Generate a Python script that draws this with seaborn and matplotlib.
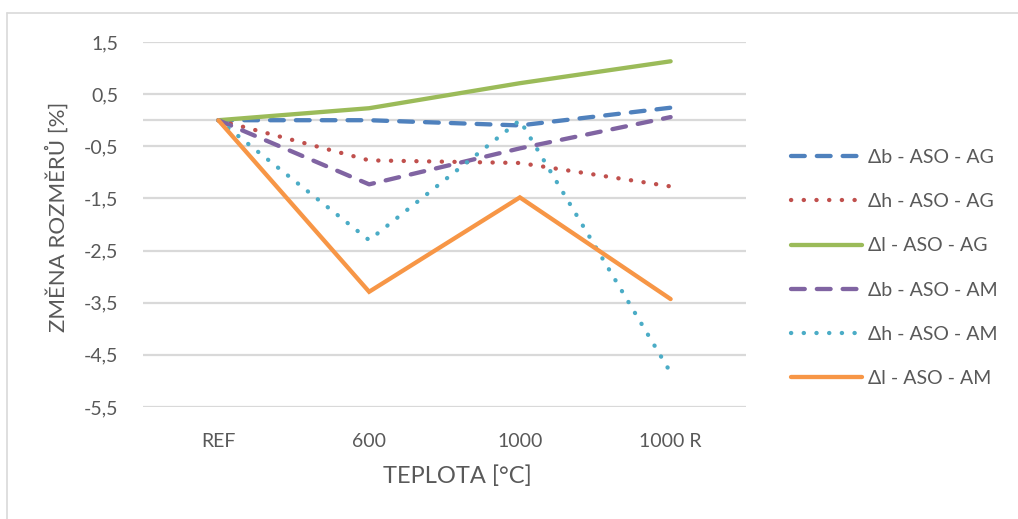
import matplotlib
matplotlib.use("Agg")
import matplotlib.pyplot as plt
from matplotlib.ticker import FuncFormatter, FixedLocator
from matplotlib.lines import Line2D
import seaborn as sns
import pandas as pd

# Temperature categories and dimension changes [%]
categories = ["REF", "600", "1000", "1000 R"]

db_ag = [0.0, 0.0, -0.10, 0.24]
dh_ag = [0.0, -0.77, -0.82, -1.27]
dl_ag = [0.0, 0.23, 0.71, 1.13]
db_am = [0.0, -1.23, -0.54, 0.06]
dh_am = [0.0, -2.30, 0.0, -4.84]
dl_am = [0.0, -3.29, -1.48, -3.43]

series_names = ["Δb - ASO - AG", "Δh - ASO - AG", "Δl - ASO - AG",
                "Δb - ASO - AM", "Δh - ASO - AM", "Δl - ASO - AM"]
series_values = [db_ag, dh_ag, dl_ag, db_am, dh_am, dl_am]
series_colors = ["#4F81BD", "#C0504D", "#9BBB59", "#8064A2", "#4BACC6", "#F79646"]
dash_kind = ["dash", "dot", "solid", "dash", "dot", "solid"]
y_ticks = [1.5, 0.5, -0.5, -1.5, -2.5, -3.5, -4.5, -5.5]

sns.set_theme(style="white")
plt.rcParams["font.family"] = ["Lato", "DejaVu Sans"]

W, H = 1018, 519
fig = plt.figure(figsize=(W / 100, H / 100), dpi=100)
ax = fig.add_axes([143 / W, 1 - 407 / H, (746 - 143) / W, (407 - 42) / H])

grey_text = "#595959"
grid_col = "#D9D9D9"

df = pd.DataFrame({"x": categories})
lw = 3.1
styles = {"dash": (0, (3.2, 2.8)), "dot": (0, (0.05, 2.9)), "solid": "-"}

handles = []
for name, vals, col, kind in zip(series_names, series_values, series_colors, dash_kind):
    df["y"] = vals
    n_before = len(ax.lines)
    sns.lineplot(data=df, x="x", y="y", ax=ax, color=col, linewidth=lw,
                 sort=False, legend=False)
    line = ax.lines[n_before]
    line.set_linestyle(styles[kind])
    line.set_dash_capstyle("round")
    line.set_solid_capstyle("round")
    line.set_solid_joinstyle("miter")
    line.set_zorder(3)
    h = Line2D([0], [0], color=col, linewidth=lw, linestyle=styles[kind])
    h.set_dash_capstyle("round")
    h.set_solid_capstyle("round")
    handles.append(h)

ax.set_xlim(-0.5, 3.5)
ax.set_ylim(-5.5, 1.5)
ax.yaxis.set_major_locator(FixedLocator(y_ticks))
ax.yaxis.set_major_formatter(FuncFormatter(lambda v, p: f"{v:.1f}".replace(".", ",")))

for yv in y_ticks:
    ax.axhline(yv, color=grid_col, linewidth=1.6, zorder=1)
ax.axhline(0, color=grid_col, linewidth=1.6, zorder=1)

for s in ax.spines.values():
    s.set_visible(False)
ax.tick_params(axis="both", length=0, labelsize=14, colors=grey_text)
ax.tick_params(axis="y", pad=18)
ax.tick_params(axis="x", pad=18.5)

ax.set_xlabel("")
ax.set_ylabel("")
fig.text(457 / W, 1 - 476 / H, "TEPLOTA [°C]", ha="center", va="center",
         fontsize=17, color=grey_text)
fig.text(57 / W, 1 - 217 / H, "ZMĚNA ROZMĚRŮ [%]", ha="center", va="center",
         rotation=90, fontsize=16, color=grey_text)

leg = fig.legend(handles, series_names, loc="center left",
                 bbox_to_anchor=(773 / W, 1 - 268 / H), frameon=False,
                 fontsize=14, handlelength=3.7, handletextpad=0.3,
                 labelspacing=1.4, labelcolor=grey_text)

# chart area border
fig.add_artist(Line2D([7 / W, 7 / W], [0, 1 - 13 / H], transform=fig.transFigure,
                      color=grid_col, linewidth=1.2))
fig.add_artist(Line2D([7 / W, 1], [1 - 13 / H, 1 - 13 / H], transform=fig.transFigure,
                      color=grid_col, linewidth=1.2))

fig.savefig("out.png", dpi=100, facecolor="white")
